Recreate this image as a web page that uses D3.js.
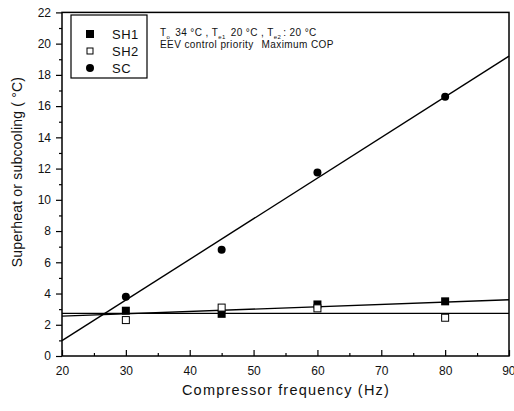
<!DOCTYPE html>
<html><head><meta charset="utf-8">
<script src="https://cdn.jsdelivr.net/npm/d3@7"></script>
<style>body{margin:0;background:#fff}svg{display:block}text{font-family:"Liberation Sans",Arial,sans-serif;fill:#111}</style>
</head><body>
<script>
const freq = [30, 45, 60, 80];
const sh1 = [2.9, 2.7, 3.3, 3.5];
const sh2 = [2.3, 3.1, 3.05, 2.45];
const sc = [3.8, 6.8, 11.75, 16.6];
const scFit = [[20, 0.98], [90, 19.2]];
const sh1Fit = [[20, 2.55], [90, 3.6]];
const sh2Fit = [[20, 2.73], [90, 2.73]];
const xTicks = [20, 30, 40, 50, 60, 70, 80, 90];
const yTicks = [0, 2, 4, 6, 8, 10, 12, 14, 16, 18, 20, 22];

const W = 514, H = 411;
const svg = d3.select("body").append("svg").attr("width", W).attr("height", H);
const x = d3.scaleLinear().domain([20, 90]).range([62, 509]);
const y = d3.scaleLinear().domain([0, 22]).range([356, 12.4]);

// frame
svg.append("rect").attr("x", x(20)).attr("y", y(22)).attr("width", x(90) - x(20)).attr("height", y(0) - y(22))
  .attr("fill", "none").attr("stroke", "#000").attr("stroke-width", 1.5);

// x axis
const xa = svg.append("g").attr("transform", `translate(0,${y(0)})`)
  .call(d3.axisBottom(x).tickValues(xTicks).tickSize(-6).tickPadding(8).tickFormat(d3.format("d")));
const xm = svg.append("g").attr("transform", `translate(0,${y(0)})`)
  .call(d3.axisBottom(x).tickValues(d3.range(25, 90, 10)).tickSize(-3).tickFormat(""));
// y axis
const ya = svg.append("g").attr("transform", `translate(${x(20)},0)`)
  .call(d3.axisLeft(y).tickValues(yTicks).tickSize(6).tickPadding(5));
const ym = svg.append("g").attr("transform", `translate(${x(20)},0)`)
  .call(d3.axisLeft(y).tickValues(d3.range(1, 22, 2)).tickSize(3).tickFormat(""));
[xa, xm, ya, ym].forEach(g => { g.select(".domain").remove(); g.selectAll("line").attr("stroke", "#000").attr("stroke-width", 1.2); });
xa.selectAll("text").attr("font-size", 12).attr("dy", "0.9em");
xa.selectAll("text").filter(d => d === 90).attr("text-anchor", "end").attr("dx", 6);
ya.selectAll("text").attr("font-size", 12);

svg.append("text").attr("x", 286).attr("y", 395).attr("text-anchor", "middle")
  .attr("font-size", 14.5).attr("letter-spacing", 1.2).text("Compressor frequency (Hz)");
svg.append("text").attr("transform", `translate(22,172) rotate(-90)`).attr("text-anchor", "middle")
  .attr("font-size", 14).attr("letter-spacing", 0.2).text("Superheat or subcooling ( °C)");

// fit lines
const line = d3.line().x(d => x(d[0])).y(d => y(d[1]));
[scFit, sh1Fit, sh2Fit].forEach(f => svg.append("path").attr("d", line(f)).attr("fill", "none")
  .attr("stroke", "#000").attr("stroke-width", 1.4));

// markers
const g = svg.append("g");
freq.forEach((f, i) => {
  g.append("rect").attr("x", x(f) - 4).attr("y", y(sh1[i]) - 4).attr("width", 8).attr("height", 8).attr("fill", "#000");
  g.append("rect").attr("x", x(f) - 3.5).attr("y", y(sh2[i]) - 3.5).attr("width", 7).attr("height", 7).attr("fill", "#fff").attr("stroke", "#000").attr("stroke-width", 1);
  g.append("circle").attr("cx", x(f)).attr("cy", y(sc[i])).attr("r", 4).attr("fill", "#000");
});

// legend
const lg = svg.append("g");
lg.append("rect").attr("x", 71).attr("y", 15).attr("width", 76).attr("height", 63).attr("fill", "#fff").attr("stroke", "#000").attr("stroke-width", 1.2);
const lrows = [["SH1", "sq"], ["SH2", "open"], ["SC", "circ"]];
lrows.forEach((r, i) => {
  const cy = 34 + i * 17;
  if (r[1] === "sq") lg.append("rect").attr("x", 86).attr("y", cy - 4).attr("width", 8).attr("height", 8).attr("fill", "#000");
  else if (r[1] === "open") lg.append("rect").attr("x", 87).attr("y", cy - 3).attr("width", 6).attr("height", 6).attr("fill", "#fff").attr("stroke", "#000");
  else lg.append("circle").attr("cx", 90).attr("cy", cy).attr("r", 4).attr("fill", "#000");
  lg.append("text").attr("x", 112).attr("y", cy + 4.5).attr("font-size", 13).attr("letter-spacing", 0.5).text(r[0]);
});

// annotation
const t1 = svg.append("text").attr("x", 160).attr("y", 36).attr("font-size", 10).attr("letter-spacing", 0.4);
t1.append("tspan").text("T");
t1.append("tspan").attr("font-size", 6).attr("dy", 3).text("o");
t1.append("tspan").attr("dy", -3).attr("dx", 5).text("34 °C , T");
t1.append("tspan").attr("font-size", 6).attr("dy", 3).text("e1");
t1.append("tspan").attr("dy", -3).attr("dx", 5).text("20 °C , T");
t1.append("tspan").attr("font-size", 6).attr("dy", 3).text("e2");
t1.append("tspan").attr("dy", -3).attr("dx", 2).text(": 20 °C");
const t2 = svg.append("text").attr("x", 160).attr("y", 48).attr("font-size", 10).attr("letter-spacing", 0.4);
t2.append("tspan").text("EEV control priority");
t2.append("tspan").attr("dx", 8).text("Maximum COP");
</script>
</body></html>
